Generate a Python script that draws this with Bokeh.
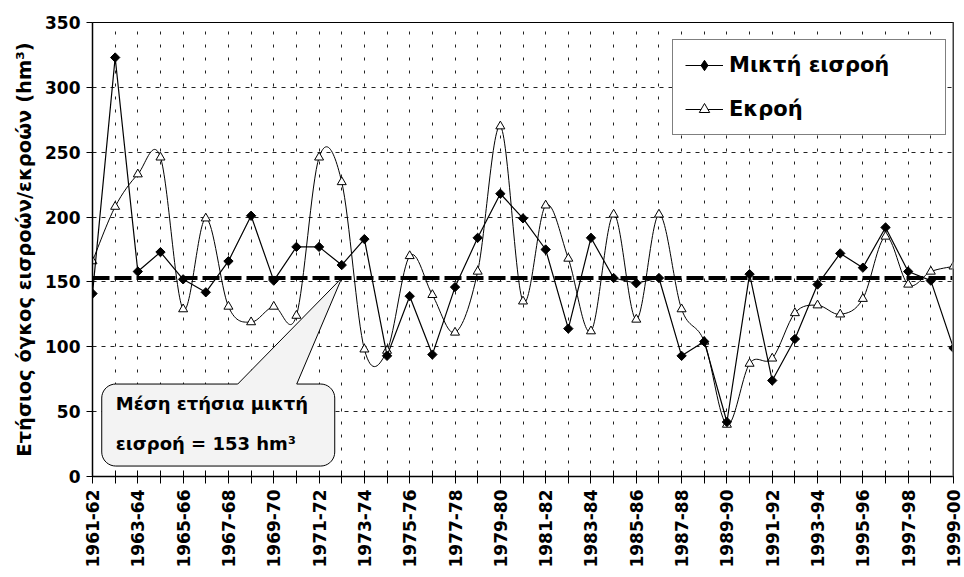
import numpy as np
from bokeh.plotting import figure
from bokeh.models import (Range1d, FixedTicker, Legend, LegendItem, Label, Span, Title)
from bokeh.embed import file_html
from bokeh.resources import INLINE

YEARS = ["1961-62", "1962-63", "1963-64", "1964-65", "1965-66", "1966-67", "1967-68",
         "1968-69", "1969-70", "1970-71", "1971-72", "1972-73", "1973-74", "1974-75",
         "1975-76", "1976-77", "1977-78", "1978-79", "1979-80", "1980-81", "1981-82",
         "1982-83", "1983-84", "1984-85", "1985-86", "1986-87", "1987-88", "1988-89",
         "1989-90", "1990-91", "1991-92", "1992-93", "1993-94", "1994-95", "1995-96",
         "1996-97", "1997-98", "1998-99", "1999-00"]
INFLOW = [141, 323, 158, 173, 152, 142, 166, 201, 151, 177, 177, 163, 183, 93, 139,
          94, 146, 184, 218, 199, 175, 114, 184, 153, 149, 153, 93, 104, 42, 156,
          74, 106, 148, 172, 161, 192, 158, 151, 99]
OUTFLOW = [166, 208, 233, 246, 129, 199, 131, 119, 131, 124, 246, 227, 98, 97, 170,
           140, 111, 158, 270, 135, 209, 168, 112, 202, 121, 202, 129, 104, 40, 87,
           91, 126, 132, 125, 137, 185, 148, 158, 162]
MEAN = 153
MEAN_ANCHOR = "1972-73"
Y_TICKS = [0, 50, 100, 150, 200, 250, 300, 350]
LABEL_IN = "Μικτή εισροή"
LABEL_OUT = "Εκροή"
Y_TITLE = "Ετήσιος όγκος εισροών/εκροών (hm\u00b3)"
CALLOUT_1 = "Μέση ετήσια μικτή"
CALLOUT_2 = f"εισροή = {MEAN} hm\u00b3"

FONT = "DejaVu Sans"
W, H = 964, 577
BL, BR, BT, BB = 92, 11, 22, 101

X = list(range(len(YEARS)))

p = figure(width=W, height=H, output_backend="svg", toolbar_location=None,
           x_range=Range1d(X[0], X[-1]), y_range=Range1d(Y_TICKS[0], Y_TICKS[-1]),
           min_border_left=BL, min_border_right=BR, min_border_top=BT,
           min_border_bottom=BB, background_fill_color="white",
           border_fill_color="white")
p.outline_line_color = "black"
p.outline_line_width = 1

fw = W - BL - BR
fh = H - BT - BB
pxu = fw / (X[-1] - X[0])
pyu = fh / (Y_TICKS[-1] - Y_TICKS[0])

# axes
xa = p.xaxis[0]
xa.ticker = FixedTicker(ticks=X[::2], minor_ticks=X[1::2])
xa.major_label_overrides = {i: YEARS[i] for i in X[::2]}
xa.major_label_orientation = np.pi / 2
xa.major_label_text_font = FONT
xa.major_label_text_font_style = "bold"
xa.major_label_text_font_size = "17px"
xa.major_label_text_color = "black"
xa.major_label_standoff = 6
xa.major_tick_in = 6
xa.major_tick_out = 7
xa.minor_tick_in = 6
xa.minor_tick_out = 7
xa.axis_line_color = "black"
xa.axis_line_width = 1.5
xa.major_tick_line_color = "black"
xa.minor_tick_line_color = "black"

ya = p.yaxis[0]
ya.ticker = FixedTicker(ticks=Y_TICKS, minor_ticks=[])
ya.major_label_text_font = FONT
ya.major_label_text_font_style = "bold"
ya.major_label_text_font_size = "17px"
ya.major_label_text_color = "black"
ya.major_label_standoff = 6
ya.major_tick_in = 0
ya.major_tick_out = 6
ya.axis_line_color = "black"
ya.axis_line_width = 1.5
ya.major_tick_line_color = "black"

# y title
p.add_layout(Title(text=Y_TITLE, align="center", offset=22, vertical_align="bottom",
                   standoff=14, text_font=FONT, text_font_style="bold",
                   text_font_size="19.5px", text_color="black"), "left")

# grids
p.xgrid.ticker = FixedTicker(ticks=X)
p.xgrid.grid_line_color = "#222222"
p.xgrid.grid_line_dash = "3 10"
p.xgrid.grid_line_width = 1
p.ygrid.ticker = FixedTicker(ticks=Y_TICKS)
p.ygrid.grid_line_color = "#222222"
p.ygrid.grid_line_dash = "4 5"
p.ygrid.grid_line_width = 1

# callout shape (pixel offsets relative to the anchor point)
ax = YEARS.index(MEAN_ANCHOR)
ay = MEAN
left, right, top, bottom = -240, -7, 106, 188
b1, b2 = -104, -45
r = 14
pts = [(b1, top), (0, 0), (b2, top), (right - r, top)]
def arc(cx, cy, a0, a1):
    t = np.linspace(a0, a1, 10)
    return [(cx + r * np.cos(a), cy + r * np.sin(a)) for a in t]
pts += arc(right - r, top + r, -np.pi / 2, 0)
pts += arc(right - r, bottom - r, 0, np.pi / 2)
pts += arc(left + r, bottom - r, np.pi / 2, np.pi)
pts += arc(left + r, top + r, np.pi, 1.5 * np.pi)
cx = [ax + dx / pxu for dx, dy in pts]
cy = [ay - dy / pyu for dx, dy in pts]
p.patch(cx, cy, fill_color="#f3f3f3", line_color="black", line_width=1)

# mean line
p.line([X[0], X[-1]], [MEAN, MEAN], line_color="black", line_width=4,
       line_dash="17 5")

# outflow: smoothed (Catmull-Rom bezier)
xs = np.array(X, dtype=float)
ys = np.array(OUTFLOW, dtype=float)
n = len(xs)
x0, y0, x1, y1, c0x, c0y, c1x, c1y = [], [], [], [], [], [], [], []
for i in range(n - 1):
    im = max(i - 1, 0)
    ip2 = min(i + 2, n - 1)
    x0.append(xs[i]); y0.append(ys[i]); x1.append(xs[i + 1]); y1.append(ys[i + 1])
    c0x.append(xs[i] + (xs[i + 1] - xs[im]) / 6)
    c0y.append(ys[i] + (ys[i + 1] - ys[im]) / 6)
    c1x.append(xs[i + 1] - (xs[ip2] - xs[i]) / 6)
    c1y.append(ys[i + 1] - (ys[ip2] - ys[i]) / 6)
p.bezier(x0=x0, y0=y0, x1=x1, y1=y1, cx0=c0x, cy0=c0y, cx1=c1x, cy1=c1y,
         line_color="black", line_width=1)
out_leg_line = p.line(X, OUTFLOW, line_color="black", line_width=1, visible=False)
sc_out = p.scatter(X, OUTFLOW, marker="triangle", size=9, fill_color="white",
                   line_color="black", line_width=1)

# inflow
ln_in = p.line(X, INFLOW, line_color="black", line_width=1.2)
sc_in = p.scatter(X, INFLOW, marker="square", angle=np.pi / 4, size=6.6,
                  fill_color="black", line_color="black")
in_leg_marker = p.scatter(X, INFLOW, marker="diamond", size=11, fill_color="black",
                          line_color="black", visible=False)

# right border
p.add_layout(Span(location=X[-1], dimension="height", line_color="#7f7f7f",
                  line_width=2.5))

# legend
legend = Legend(items=[LegendItem(label=LABEL_IN, renderers=[ln_in, in_leg_marker]),
                       LegendItem(label=LABEL_OUT, renderers=[out_leg_line, sc_out])],
                location=(580, 341), orientation="vertical",
                label_text_font=FONT, label_text_font_style="bold",
                label_text_font_size="21px", label_text_color="black",
                glyph_width=38, glyph_height=26, label_height=26,
                label_width=204, label_standoff=6, spacing=18, padding=12,
                margin=0, border_line_color="black", border_line_width=1,
                background_fill_color="white", background_fill_alpha=1)
p.add_layout(legend)

# callout texts
for txt, dy in [(CALLOUT_1, 125), (CALLOUT_2, 165.5)]:
    p.add_layout(Label(x=ax + (-226) / pxu, y=ay - dy / pyu, text=txt,
                       text_align="left", text_baseline="middle", text_font=FONT,
                       text_font_style="bold", text_font_size="18px",
                       text_color="black"))

open("out.html", "w").write(file_html(p, INLINE))
